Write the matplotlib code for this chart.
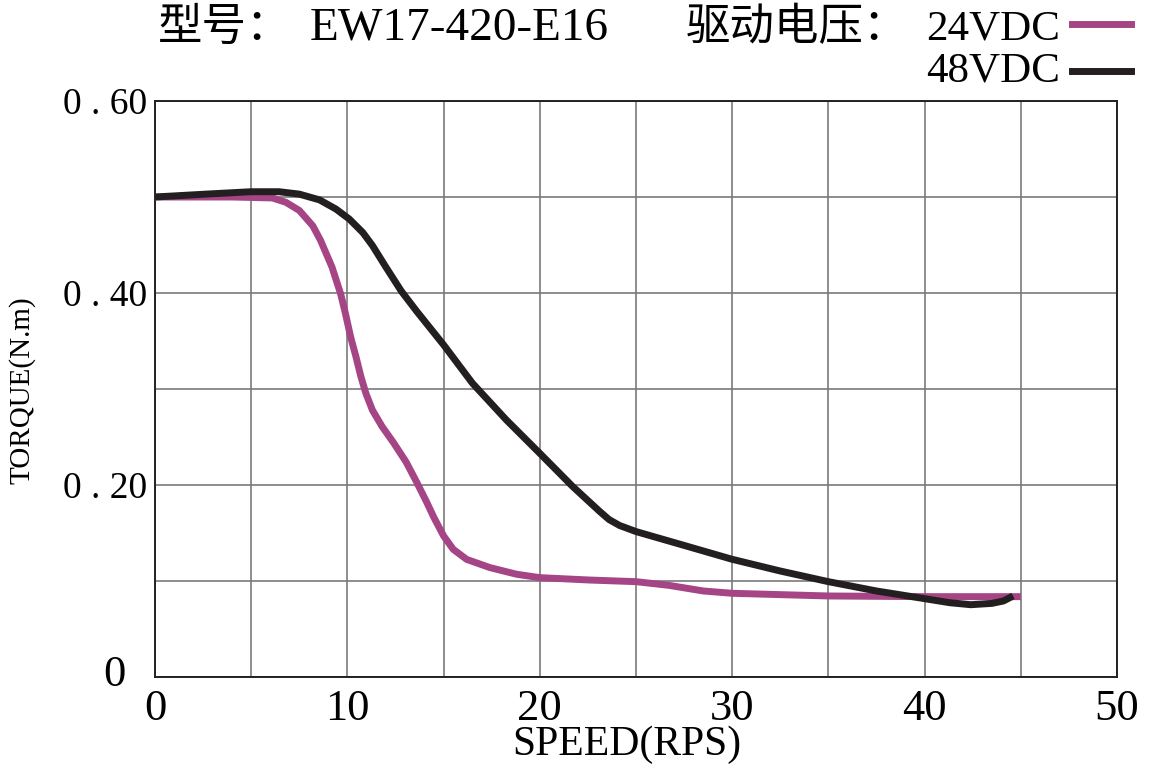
import matplotlib
matplotlib.use('Agg')
import matplotlib.pyplot as plt
from matplotlib.lines import Line2D

# speed (rps) vs torque (N.m)
speed_24 = [0, 2, 4, 6.1, 6.8, 7.5, 8.2, 8.6, 9.2, 9.65, 9.9, 10.17, 10.44, 10.7, 10.96,
            11.3, 11.8, 12.4, 13.05, 13.6, 14.1, 14.5, 15.0, 15.5, 16.2, 17.4, 18.8, 20.0,
            22.6, 25.0, 26.7, 28.5, 30.0, 35.0, 40.0, 45.0]
torque_24 = [0.500, 0.500, 0.500, 0.499, 0.4945, 0.486, 0.470, 0.455, 0.427, 0.399,
             0.3785, 0.354, 0.334, 0.313, 0.2955, 0.278, 0.261, 0.244, 0.224, 0.203,
             0.183, 0.166, 0.147, 0.133, 0.1225, 0.114, 0.107, 0.1035, 0.101, 0.0993,
             0.0955, 0.0896, 0.0872, 0.0844, 0.0837, 0.0837]

speed_48 = [0, 2.65, 5.0, 6.45, 7.5, 8.55, 9.4, 10.1, 10.8, 11.3, 12.0, 12.8, 13.6, 15.0,
            16.5, 18.25, 20.0, 21.7, 23.1, 23.6, 24.15, 25.0, 27.6, 30.0, 32.5, 35.0,
            37.5, 40.0, 41.3, 42.4, 43.5, 44.1, 44.6]
torque_48 = [0.500, 0.503, 0.5055, 0.5055, 0.503, 0.497, 0.4875, 0.477, 0.463, 0.4495,
             0.427, 0.402, 0.381, 0.346, 0.306, 0.268, 0.233, 0.1986, 0.1727, 0.164,
             0.1578, 0.1515, 0.1365, 0.1226, 0.1104, 0.0993, 0.0896, 0.0816, 0.0774,
             0.0753, 0.0767, 0.0792, 0.0844]

x_ticks = [0, 5, 10, 15, 20, 25, 30, 35, 40, 45, 50]
x_labels = ['0', '', '10', '', '20', '', '30', '', '40', '', '50']
y_ticks = [0, 0.1, 0.2, 0.3, 0.4, 0.5, 0.6]
y_labels = ['', '', '0 . 20', '', '0 . 40', '', '0 . 60']

PINK = '#a54585'
BLACK = '#231f20'
FAM = ['Liberation Serif', 'Noto Sans CJK SC', 'DejaVu Sans']
plt.rcParams['font.family'] = FAM

W, H = 1151, 767
fig = plt.figure(figsize=(W / 100, H / 100), dpi=100)
ax = fig.add_axes([155 / W, 1 - 677 / H, 962 / W, 576 / H])

ax.plot(speed_24, torque_24, color=PINK, lw=5, solid_capstyle='butt', zorder=3)
ax.plot(speed_48, torque_48, color=BLACK, lw=5, solid_capstyle='butt', zorder=4)

ax.set_xlim(0, 50)
ax.set_ylim(0, 0.6)
ax.set_xticks(x_ticks)
ax.set_xticklabels(x_labels, fontsize=32)
ax.set_yticks(y_ticks)
ax.set_yticklabels(y_labels, fontsize=27)
ax.tick_params(length=0)
ax.tick_params(axis='x', pad=9)
ax.tick_params(axis='y', pad=6)
ax.grid(True, color='#7a7a7a', lw=1.2)
ax.set_axisbelow(True)
for s in ax.spines.values():
    s.set_color('#222222')
    s.set_linewidth(1.4)

# the "0" on the y axis sits lower and further left than the others
ax.text(-0.031, 0.002, '0', transform=ax.get_yaxis_transform(), ha='right',
        va='center', fontsize=32)

fig.text(627 / W, 1 - 745 / H, 'SPEED(RPS)', ha='center', va='center', fontsize=30)
fig.text(22 / W, 1 - 390 / H, 'TORQUE(N.m)', ha='center', va='center',
         rotation=90, fontsize=21)

# header line, with the legend swatches to the right
fig.text(158 / W, 1 - 40 / H, '型号：', ha='left', va='baseline', fontsize=32)
fig.text(686 / W, 1 - 40 / H, '驱动电压：', ha='left', va='baseline', fontsize=32)
fig.text(459 / W, 1 - 40 / H, 'EW17-420-E16', ha='center', va='baseline', fontsize=34)
fig.text(993 / W, 1 - 40 / H, '24VDC', ha='center', va='baseline', fontsize=31)
fig.text(993 / W, 1 - 82 / H, '48VDC', ha='center', va='baseline', fontsize=31)

fig.add_artist(Line2D([1072 / W, 1131 / W], [1 - 24 / H, 1 - 24 / H],
                      color=PINK, lw=5, transform=fig.transFigure))
fig.add_artist(Line2D([1072 / W, 1131 / W], [1 - 71 / H, 1 - 71 / H],
                      color=BLACK, lw=5, transform=fig.transFigure))

fig.savefig('out.png', dpi=100)
